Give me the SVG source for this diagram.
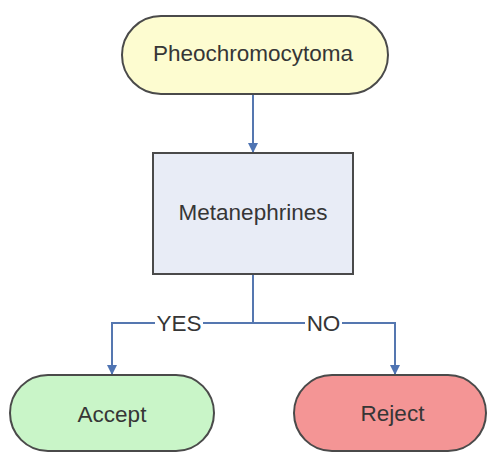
<svg xmlns="http://www.w3.org/2000/svg" width="488" height="453" viewBox="0 0 488 453">
  <defs>
    <marker id="arrow" viewBox="0 0 10 10" refX="10" refY="5" markerWidth="5" markerHeight="5" orient="auto" markerUnits="strokeWidth">
      <path d="M0,0 L10,5 L0,10 Z" fill="#4f74b3"/>
    </marker>
    <style>
      .node { stroke: #4a4a4a; stroke-width: 2; }
      .label { font-family: "Liberation Sans", Arial, sans-serif; font-size: 22.5px; fill: #363636; text-anchor: middle; }
      .edge { fill: none; stroke: #5577b0; stroke-width: 2; }
      .edge-label { font-family: "Liberation Sans", Arial, sans-serif; font-size: 22.5px; fill: #363636; text-anchor: middle; }
    </style>
  </defs>
  <rect width="488" height="453" fill="#ffffff"/>

  <g id="connectors">
    <path class="edge" d="M253,94 V153" marker-end="url(#arrow)"/>
    <path class="edge" d="M253,274 V323"/>
    <path class="edge" d="M253,323 H203 M155,323 H112 V375" marker-end="url(#arrow)"/>
    <path class="edge" d="M253,323 H305 M342,323 H395 V375" marker-end="url(#arrow)"/>
    <text class="edge-label" x="179" y="331">YES</text>
    <text class="edge-label" x="323.5" y="331">NO</text>
  </g>

  <g id="pheochromocytoma">
    <rect class="node" x="122" y="16" width="266" height="78" rx="39" ry="39" fill="#fdfcd0"/>
    <text class="label" x="253" y="61">Pheochromocytoma</text>
  </g>

  <g id="metanephrines">
    <rect class="node" x="153" y="153" width="200" height="121" fill="#e8ecf6"/>
    <text class="label" x="253" y="220">Metanephrines</text>
  </g>

  <g id="accept">
    <rect class="node" x="10" y="375" width="204" height="76" rx="38" ry="38" fill="#c9f5c8"/>
    <text class="label" x="112" y="422">Accept</text>
  </g>

  <g id="reject">
    <rect class="node" x="294" y="375" width="192" height="76" rx="38" ry="38" fill="#f49595"/>
    <text class="label" x="392.5" y="421">Reject</text>
  </g>
</svg>
